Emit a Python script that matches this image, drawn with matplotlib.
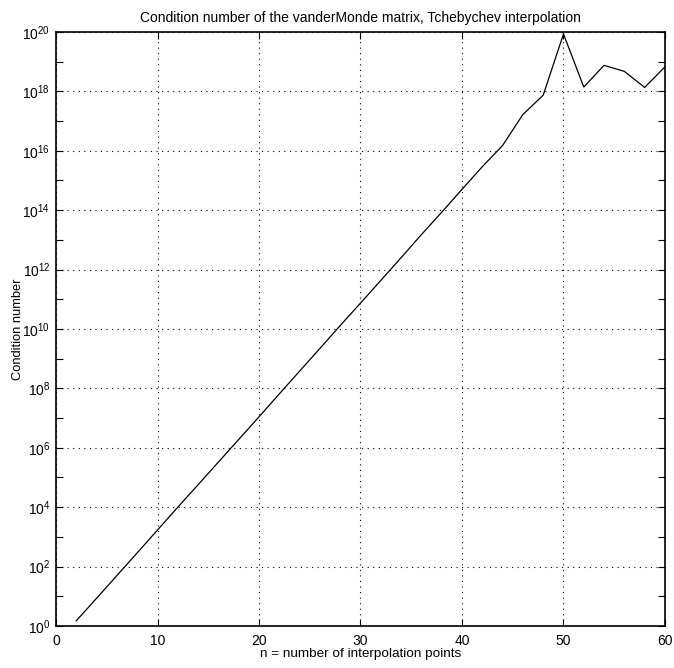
import matplotlib
matplotlib.use("Agg")
import matplotlib.pyplot as plt
from matplotlib.ticker import LogLocator, FixedLocator, NullFormatter

# condition number of the Vandermonde matrix on Chebyshev nodes
n_points = [2, 4, 6, 8, 10, 12, 14, 16, 18, 20, 22, 24, 26, 28, 30,
            32, 34, 36, 38, 40, 42, 44, 46, 48, 50, 52, 54, 56, 58, 60]
cond_number = [1.5, 8.6, 50, 2.9e2, 1.7e3, 1.0e4, 5.7e4, 3.3e5, 1.9e6, 1.1e7,
               6.5e7, 3.8e8, 2.2e9, 1.3e10, 7.4e10, 4.3e11, 2.5e12, 1.5e13,
               8.5e13, 5.0e14, 2.9e15, 1.5e16, 1.66e17, 7.4e17, 8.5e19,
               1.4e18, 7.5e18, 4.7e18, 1.35e18, 6.7e18]

x_ticks = [0, 10, 20, 30, 40, 50, 60]
y_exponents = list(range(0, 21, 2))

plt.rcParams["font.family"] = ["Liberation Sans", "DejaVu Sans"]
plt.rcParams["mathtext.fontset"] = "custom"
plt.rcParams["mathtext.rm"] = "Liberation Sans"
plt.rcParams["mathtext.it"] = "Liberation Sans"

fig = plt.figure(figsize=(6.74, 6.68), dpi=100)
ax = fig.add_axes([0.0831, 0.0629, 0.9035, 0.8893])

ax.semilogy(n_points, cond_number, color="black", linewidth=0.9)

ax.set_xlim(0, 60)
ax.set_ylim(1, 1e20)
ax.xaxis.set_major_locator(FixedLocator(x_ticks))
ax.yaxis.set_major_locator(FixedLocator([10.0 ** k for k in y_exponents]))
ax.yaxis.set_minor_locator(LogLocator(base=10, subs=[1.0], numticks=30))
ax.yaxis.set_minor_formatter(NullFormatter())
ax.set_yticklabels([f"$\\mathrm{{10}}^{{{k}}}$" for k in y_exponents])

ax.grid(True, which="major", linestyle=(0, (1, 4)), color="black", linewidth=0.8)
ax.tick_params(which="both", direction="in", top=True, right=True, labelsize=10,
               width=0.8)
ax.tick_params(which="major", length=5)
ax.tick_params(axis="x", pad=6)
ax.tick_params(axis="y", pad=4)
ax.tick_params(axis="y", which="minor", length=5)
for s in ax.spines.values():
    s.set_linewidth(1.2)

ax.set_xlabel("n = number of interpolation points", fontsize=9.7)
ax.xaxis.set_label_coords(0.5, -0.037)
ax.set_ylabel("Condition number", fontsize=9.3)
ax.yaxis.set_label_coords(-0.052, 0.5)
ax.set_title("Condition number of the vanderMonde matrix, Tchebychev interpolation",
             fontsize=10, pad=7)

fig.savefig("out.png", dpi=100)
